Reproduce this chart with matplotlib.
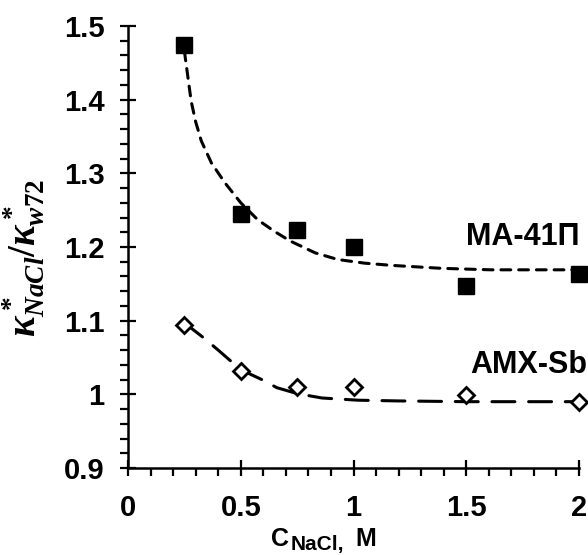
import matplotlib
matplotlib.use("Agg")
import matplotlib.pyplot as plt
from matplotlib.ticker import MultipleLocator

plt.rcParams['font.family'] = ['Liberation Sans', 'DejaVu Sans']
plt.rcParams['mathtext.fontset'] = 'custom'
plt.rcParams['mathtext.it'] = 'Liberation Serif:italic:bold'
plt.rcParams['mathtext.rm'] = 'Liberation Serif:bold'
plt.rcParams['mathtext.bf'] = 'Liberation Sans:bold'

# measured points
c_nacl = [0.25, 0.5, 0.75, 1.0, 1.5, 2.0]
ma41p = [1.474, 1.245, 1.223, 1.200, 1.147, 1.163]
amx_sb = [1.094, 1.032, 1.010, 1.010, 0.999, 0.990]

# fitted curves
ma_fit_x = [0.25, 0.265, 0.28, 0.30, 0.325, 0.37, 0.43, 0.50, 0.575, 0.65,
            0.72, 0.83, 0.93, 1.05, 1.17, 1.39, 1.61, 1.90, 2.0]
ma_fit_y = [1.466, 1.432, 1.398, 1.370, 1.344, 1.314, 1.287, 1.260, 1.237, 1.221,
            1.208, 1.192, 1.183, 1.178, 1.175, 1.171, 1.169, 1.169, 1.169]
amx_fit_x = [0.25, 0.33, 0.40, 0.46, 0.51, 0.60, 0.66, 0.75, 0.86, 1.02,
             1.2, 1.5, 1.8, 2.0]
amx_fit_y = [1.097, 1.078, 1.060, 1.044, 1.032, 1.019, 1.009, 1.001, 0.995, 0.992,
             0.991, 0.990, 0.990, 0.990]

W, H = 588, 555
fig = plt.figure(figsize=(W / 100, H / 100), dpi=100)
ax = fig.add_axes([0.2177, 0.1568, 0.767, 0.7964])

ax.plot(ma_fit_x, ma_fit_y, color='black', lw=2.2, dashes=(3.2, 2.6),
        dash_capstyle='round', zorder=2)
ax.plot(amx_fit_x, amx_fit_y, color='black', lw=2.2, dashes=(7.5, 4.5),
        dash_capstyle='round', zorder=2)
ax.plot(c_nacl, ma41p, 's', color='black', ms=11.5, zorder=3, clip_on=False)
ax.plot(c_nacl, amx_sb, 'D', mfc='white', mec='black', mew=2, ms=7.8,
        zorder=3, clip_on=False)

ax.text(2.004, 1.2027, 'MA-41П', fontsize=22, fontweight='bold', ha='right',
        va='baseline')
ax.text(2.035, 1.029, 'AMX-Sb', fontsize=22, fontweight='bold', ha='right',
        va='baseline', clip_on=False)

ax.set_xlim(0, 2)
ax.set_ylim(0.9, 1.5)
ax.xaxis.set_minor_locator(MultipleLocator(0.1))
ax.yaxis.set_minor_locator(MultipleLocator(0.02))
ax.set_xticks([0, 0.5, 1, 1.5, 2])
ax.set_xticklabels(['0', '0.5', '1', '1.5', '2'])
ax.set_yticks([0.9, 1.0, 1.1, 1.2, 1.3, 1.4, 1.5])
ax.set_yticklabels(['0.9', '1', '1.1', '1.2', '1.3', '1.4', '1.5'])

for s in ['top', 'right']:
    ax.spines[s].set_visible(False)
for s in ['left', 'bottom']:
    ax.spines[s].set_linewidth(1.8)

ax.tick_params(which='major', direction='inout', length=12, width=1.6,
               labelsize=21)
ax.tick_params(which='minor', direction='out', length=6, width=1.6)
ax.tick_params(axis='y', which='major', pad=11)
ax.tick_params(axis='x', which='major', pad=13)
for lbl in ax.get_xticklabels() + ax.get_yticklabels():
    lbl.set_fontweight('bold')

# x axis title: C with a subscript NaCl, then M
fig.text(271 / W, 1 - 546 / H, 'C', fontsize=18, fontweight='bold',
         ha='left', va='baseline')
fig.text(291 / W, 1 - 550 / H, 'NaCl,', fontsize=15, fontweight='bold',
         ha='left', va='baseline')
fig.text(355 / W, 1 - 546 / H, 'M', fontsize=18, fontweight='bold',
         ha='left', va='baseline')

ax.set_ylabel(r'$\kappa^*_{NaCl}/\kappa^*_{w72}$', fontsize=28, va='center')
ax.yaxis.set_label_coords(-0.2306, 0.475, transform=ax.transAxes)

fig.savefig('out.png', dpi=100)
